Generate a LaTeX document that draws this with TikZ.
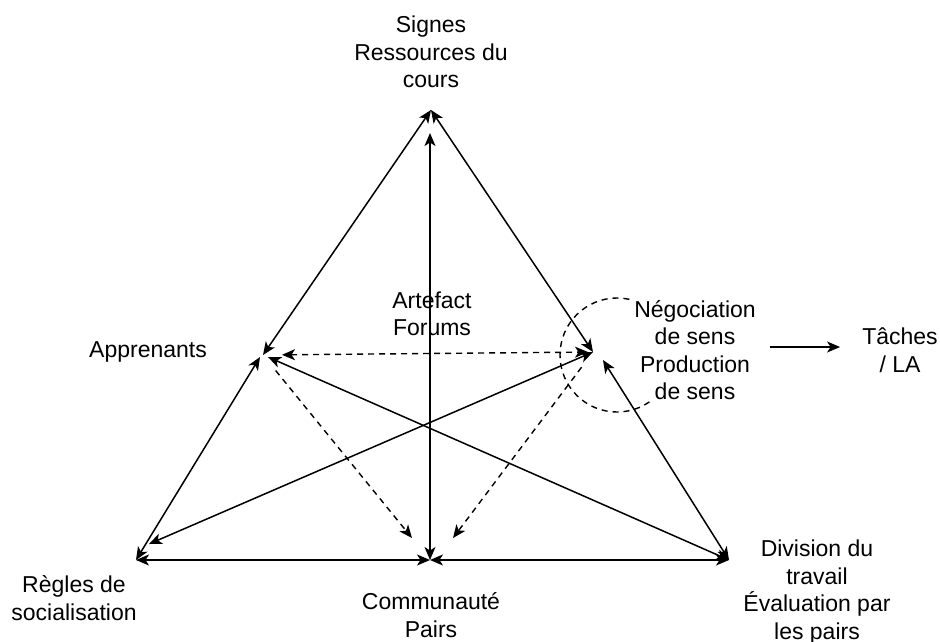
\documentclass[tikz,border=0pt]{standalone}
\usepackage{fontspec}
\setmainfont{Liberation Sans}
\usetikzlibrary{arrows.meta}
\begin{document}
\begin{tikzpicture}[x=1pt,y=-1pt,
  >={Stealth[length=13pt,width=11pt,inset=3.5pt]},
  link/.style={line width=1.5pt,<->},
  onelink/.style={line width=1.5pt,->},
  dlink/.style={line width=1.4pt,dash pattern=on 6pt off 5pt},
  lbl/.style={font=\fontsize{23}{27.5}\selectfont,align=center,inner sep=0pt}]
\useasboundingbox (0,0) rectangle (940,641);

% corner and mid-side points of the triangle
\coordinate (T)  at (431,110);
\coordinate (Tv) at (430,133);
\coordinate (A)  at (263,355);
\coordinate (Aw) at (260,357);
\coordinate (Ae) at (268,357);
\coordinate (N)  at (593,352);
\coordinate (N2) at (603,360);
\coordinate (R)  at (136,560);
\coordinate (R2) at (149,544);
\coordinate (C)  at (430,560);
\coordinate (Cl) at (412,538);
\coordinate (Cr) at (453,538);
\coordinate (D)  at (729,560);

% dashed circle around the object
\draw[dlink] (617,355) circle (57);

% labels
\node[lbl] (signes) at (431,52) {Signes\\Ressources du\\cours};
\node[lbl] (artefact) at (432,314) {Artefact\\Forums};
\node[lbl] (appr) at (148,352) {Apprenants};
\node[lbl,fill=white] (neg) at (695,350) {Négociation\\de sens\\Production\\de sens};
\node[lbl] (taches) at (900,350) {Tâches\\/ LA};
\node[lbl] (regles) at (74,598) {Règles de\\socialisation};
\node[lbl] (comm) at (431,615) {Communauté\\Pairs};
\node[lbl] (div) at (817,592) {Division du\\travail\\Évaluation par\\les pairs};

% sides of the triangle
\draw[link] (T) -- (A);
\draw[link] (T) -- (N);
\draw[link] (Aw) -- (R);
\draw[link] (N2) -- (D);
\draw[link] (R) -- (C);
\draw[link] (C) -- (D);

% inner connections
\draw[link] (Tv) -- (C);
\draw[link] (Ae) -- (D);
\draw[link] (R2) -- (N);

% dashed mediations
\draw[dlink,<->,shorten <=19pt,shorten >=5pt] (A) -- (N);
\draw[dlink,->,shorten <=20pt] (A) -- (Cl);
\draw[dlink,->,shorten <=19pt] (N) -- (Cr);

% outcome
\draw[onelink] ([xshift=14pt,yshift=3pt]neg.east) -- ([xshift=-22pt,yshift=3pt]taches.west);
\end{tikzpicture}
\end{document}
